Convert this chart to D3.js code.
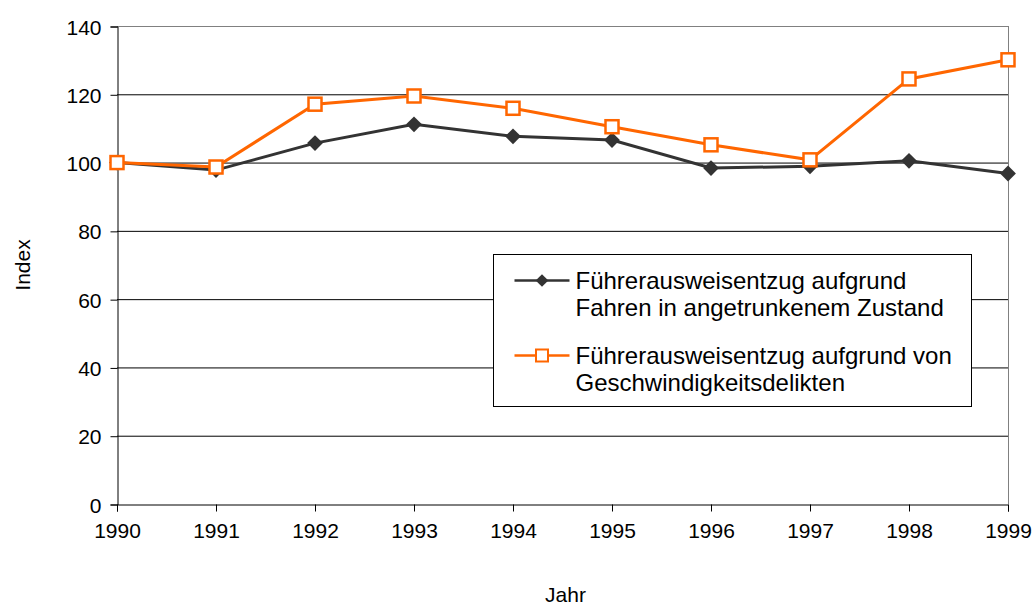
<!DOCTYPE html>
<html>
<head>
<meta charset="utf-8">
<script src="https://cdn.jsdelivr.net/npm/d3@7"></script>
<style>
  body { margin: 0; background: #fff; }
  text { font-family: "Liberation Sans", Arial, sans-serif; fill: #000; }
</style>
</head>
<body>
<div id="chart"></div>
<script>
// Führerausweisentzug, Index 1990 = 100
var years = [1990, 1991, 1992, 1993, 1994, 1995, 1996, 1997, 1998, 1999];
var alkohol = [100, 97.8, 105.7, 111.2, 107.7, 106.6, 98.4, 98.9, 100.5, 96.8];
var tempo = [100, 98.7, 117.1, 119.5, 115.9, 110.5, 105.2, 100.8, 124.5, 130.1];
var yTicks = [0, 20, 40, 60, 80, 100, 120, 140];
var seriesNames = [
  ["Führerausweisentzug aufgrund", "Fahren in angetrunkenem Zustand"],
  ["Führerausweisentzug aufgrund von", "Geschwindigkeitsdelikten"]
];

var width = 1034,
    height = 608,
    margin = {top: 26, right: 26, bottom: 104, left: 117};

var x = d3.scaleLinear()
    .domain([1990, 1999])
    .range([margin.left, width - margin.right]);

var y = d3.scaleLinear()
    .domain([0, 140])
    .range([height - margin.bottom, margin.top]);

var svg = d3.select("#chart").append("svg")
    .attr("width", width)
    .attr("height", height);

// gridlines
svg.append("g")
  .selectAll("line")
    .data(yTicks.filter(function(d) { return d > 0; }))
  .enter().append("line")
    .attr("x1", x(1990))
    .attr("x2", x(1999))
    .attr("y1", function(d) { return y(d) + 0.5; })
    .attr("y2", function(d) { return y(d) + 0.5; })
    .attr("stroke", function(d) { return d === 140 ? "#808080" : "#000"; })
    .attr("stroke-width", 1);

// right border
svg.append("line")
    .attr("x1", x(1999) + 0.5).attr("x2", x(1999) + 0.5)
    .attr("y1", y(140)).attr("y2", y(0))
    .attr("stroke", "#808080");

// y axis
var yAxis = svg.append("g")
    .attr("transform", "translate(" + (x(1990) + 0.5) + ",0.5)")
    .call(d3.axisLeft(y).tickValues(yTicks).tickSize(7).tickPadding(9));

// x axis
var xAxis = svg.append("g")
    .attr("transform", "translate(0," + (y(0) + 0.5) + ")")
    .call(d3.axisBottom(x).tickValues(years).tickFormat(d3.format("d")).tickSize(7).tickPadding(12));

[yAxis, xAxis].forEach(function(a) {
  a.select(".domain").attr("stroke", "#000");
  a.selectAll(".tick line").attr("stroke", "#000");
  a.selectAll("text")
      .style("font-size", "21px")
      .style("font-family", "'Liberation Sans', Arial, sans-serif")
      .attr("fill", "#000");
});
yAxis.selectAll(".tick text").attr("dy", "0.36em");

// axis titles
svg.append("text")
    .attr("x", (x(1990) + x(1999)) / 2 + 3)
    .attr("y", 602)
    .attr("text-anchor", "middle")
    .style("font-size", "21px")
    .text("Jahr");

svg.append("text")
    .attr("transform", "translate(30," + ((y(0) + y(140)) / 2) + ") rotate(-90)")
    .attr("text-anchor", "middle")
    .style("font-size", "21px")
    .text("Index");

var line = d3.line()
    .x(function(d, i) { return x(years[i]); })
    .y(function(d) { return y(d); });

// series 1: dark line, diamonds
svg.append("path")
    .datum(alkohol)
    .attr("d", line)
    .attr("fill", "none")
    .attr("stroke", "#333333")
    .attr("stroke-width", 3);

var diamond = d3.symbol().type(d3.symbolSquare).size(125);

svg.selectAll(".dia")
    .data(alkohol)
  .enter().append("path")
    .attr("class", "dia")
    .attr("d", diamond)
    .attr("transform", function(d, i) { return "translate(" + x(years[i]) + "," + y(d) + ") rotate(45)"; })
    .attr("fill", "#333333");

// series 2: orange line, open squares
svg.append("path")
    .datum(tempo)
    .attr("d", line)
    .attr("fill", "none")
    .attr("stroke", "#FF6600")
    .attr("stroke-width", 3);

svg.selectAll(".sq")
    .data(tempo)
  .enter().append("rect")
    .attr("class", "sq")
    .attr("x", function(d, i) { return x(years[i]) - 6.5; })
    .attr("y", function(d) { return y(d) - 6.5; })
    .attr("width", 13)
    .attr("height", 13)
    .attr("fill", "#fff")
    .attr("stroke", "#FF6600")
    .attr("stroke-width", 2.5);

// legend
var legend = svg.append("g")
    .attr("transform", "translate(493.5,254.5)");

legend.append("rect")
    .attr("width", 478)
    .attr("height", 152)
    .attr("fill", "#fff")
    .attr("stroke", "#000");

var items = legend.selectAll(".item")
    .data(seriesNames)
  .enter().append("g")
    .attr("class", "item")
    .attr("transform", function(d, i) { return "translate(0," + (i === 0 ? 26 : 101) + ")"; });

items.append("line")
    .attr("x1", 21).attr("x2", 76)
    .attr("stroke", function(d, i) { return i === 0 ? "#333333" : "#FF6600"; })
    .attr("stroke-width", 2.5);

items.filter(function(d, i) { return i === 0; })
  .append("path")
    .attr("d", d3.symbol().type(d3.symbolSquare).size(80))
    .attr("transform", "translate(48.5,0) rotate(45)")
    .attr("fill", "#333333");

items.filter(function(d, i) { return i === 1; })
  .append("rect")
    .attr("x", 42.5).attr("y", -6)
    .attr("width", 12).attr("height", 12)
    .attr("fill", "#fff")
    .attr("stroke", "#FF6600")
    .attr("stroke-width", 2);

items.each(function(d) {
  var t = d3.select(this).append("text")
      .attr("x", 82)
      .attr("y", 8)
      .style("font-size", "24px");
  d.forEach(function(s, k) {
    t.append("tspan")
        .attr("x", 82)
        .attr("dy", k === 0 ? 0 : 27)
        .text(s);
  });
});
</script>
</body>
</html>
